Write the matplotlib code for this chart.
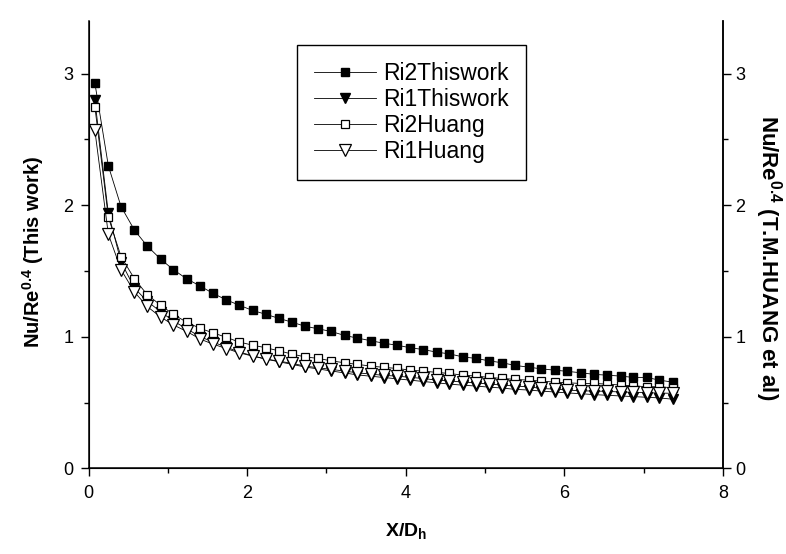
import matplotlib
matplotlib.use("Agg")
import matplotlib.pyplot as plt
from matplotlib.ticker import MultipleLocator
from matplotlib import font_manager

# ---- data ----
x_dh = [0.08, 0.25, 0.41, 0.58, 0.74, 0.91, 1.07, 1.24, 1.41, 1.57,
        1.74, 1.90, 2.07, 2.24, 2.40, 2.57, 2.73, 2.90, 3.06, 3.23,
        3.39, 3.56, 3.73, 3.89, 4.06, 4.22, 4.39, 4.55, 4.72, 4.89,
        5.05, 5.22, 5.38, 5.55, 5.71, 5.88, 6.04, 6.21, 6.38, 6.54,
        6.71, 6.87, 7.04, 7.20, 7.37]

ri2_thiswork = [2.93, 2.30, 1.99, 1.81, 1.69, 1.59, 1.51, 1.44, 1.385, 1.33,
                1.28, 1.24, 1.20, 1.17, 1.14, 1.11, 1.08, 1.06, 1.04, 1.01,
                0.99, 0.97, 0.95, 0.936, 0.916, 0.903, 0.883, 0.870, 0.847, 0.835,
                0.817, 0.802, 0.782, 0.769, 0.756, 0.746, 0.737, 0.726, 0.714, 0.708,
                0.701, 0.691, 0.691, 0.670, 0.655]

ri1_thiswork = [2.80, 1.94, 1.57, 1.37, 1.27, 1.19, 1.12, 1.06, 1.00, 0.96,
                0.92, 0.885, 0.855, 0.83, 0.81, 0.79, 0.77, 0.755, 0.74, 0.725,
                0.71, 0.70, 0.69, 0.68, 0.67, 0.66, 0.65, 0.64, 0.632, 0.625,
                0.617, 0.61, 0.60, 0.595, 0.587, 0.58, 0.573, 0.567, 0.56, 0.555,
                0.55, 0.545, 0.54, 0.535, 0.525]

ri2_huang = [2.75, 1.91, 1.61, 1.44, 1.32, 1.24, 1.17, 1.11, 1.063, 1.03,
             0.995, 0.96, 0.936, 0.916, 0.893, 0.868, 0.847, 0.835, 0.817, 0.802,
             0.79, 0.777, 0.767, 0.759, 0.746, 0.739, 0.729, 0.721, 0.708, 0.701,
             0.691, 0.683, 0.676, 0.670, 0.663, 0.655, 0.650, 0.645, 0.645, 0.640,
             0.633, 0.627, 0.620, 0.620, 0.612]

ri1_huang = [2.57, 1.78, 1.51, 1.34, 1.23, 1.15, 1.09, 1.04, 0.982, 0.944,
             0.91, 0.878, 0.853, 0.83, 0.815, 0.797, 0.777, 0.764, 0.752, 0.739,
             0.726, 0.716, 0.706, 0.701, 0.691, 0.683, 0.670, 0.665, 0.655, 0.650,
             0.640, 0.633, 0.625, 0.620, 0.607, 0.602, 0.595, 0.589, 0.587, 0.585,
             0.580, 0.578, 0.575, 0.572, 0.570]

series_labels = ["Ri2Thiswork", "Ri1Thiswork", "Ri2Huang", "Ri1Huang"]
x_ticks = [0, 2, 4, 6, 8]
y_ticks = [0, 1, 2, 3]

# ---- fonts ----
names = {f.name for f in font_manager.fontManager.ttflist}
tick_family = ["Liberation Sans Narrow", "Liberation Sans", "DejaVu Sans"] if "Liberation Sans Narrow" in names else ["Liberation Sans", "DejaVu Sans"]
plt.rcParams["font.family"] = ["Liberation Sans", "DejaVu Sans"]
plt.rcParams["mathtext.fontset"] = "custom"
plt.rcParams["mathtext.rm"] = "Liberation Sans:bold"
plt.rcParams["mathtext.bf"] = "Liberation Sans:bold"
plt.rcParams["mathtext.it"] = "Liberation Sans:bold"

fig = plt.figure(figsize=(7.86, 5.54), dpi=100)
ax = fig.add_axes([0.1126, 0.1547, 0.8070, 0.8073])

lw = 0.6
ax.plot(x_dh, ri2_thiswork, color="black", lw=lw, marker="s", ms=5.2,
        mfc="black", mec="black", label=series_labels[0], zorder=3)
ax.plot(x_dh, ri1_thiswork, color="black", lw=lw, marker="v", ms=7.5,
        mfc="black", mec="black", label=series_labels[1], zorder=4)
ax.plot(x_dh, ri2_huang, color="black", lw=lw, marker="s", ms=5.6,
        mfc="white", mec="black", mew=0.9, label=series_labels[2], zorder=5)
ax.plot(x_dh, ri1_huang, color="black", lw=lw, marker="v", ms=8,
        mfc="white", mec="black", mew=0.9, label=series_labels[3], zorder=6)

ax.set_xlim(0, 8)
ax.set_ylim(0, 3.4)
ax.set_xticks(x_ticks)
ax.set_yticks(y_ticks)
ax.xaxis.set_minor_locator(MultipleLocator(1))
ax.yaxis.set_minor_locator(MultipleLocator(0.5))

for s in ["left", "bottom", "right"]:
    ax.spines[s].set_linewidth(1.1)
ax.spines["top"].set_visible(False)

ax.tick_params(which="major", direction="out", length=6, width=1.0,
               labelsize=13, pad=5, colors="black")
ax.tick_params(which="minor", direction="out", length=3.5, width=1.0)
ax.tick_params(axis="x", which="major", pad=6)
for lab in ax.get_xticklabels() + ax.get_yticklabels():
    lab.set_family(tick_family)

ax2 = ax.twinx()
ax2.set_ylim(0, 3.4)
ax2.set_yticks(y_ticks)
ax2.yaxis.set_minor_locator(MultipleLocator(0.5))
ax2.spines["top"].set_visible(False)
ax2.spines["right"].set_linewidth(1.1)
ax2.tick_params(which="major", direction="out", length=6, width=1.0,
                labelsize=13, pad=3)
ax2.tick_params(which="minor", direction="out", length=3.5, width=1.0)
for lab in ax2.get_yticklabels():
    lab.set_family(tick_family)

ax.set_xlabel(r"X/D$_{\mathrm{h}}$", fontsize=14, fontweight="bold", labelpad=14)
fig.text(0.042, 0.545, r"Nu/Re$^{0.4}$ (This work)", rotation=90, fontsize=14.5,
         fontweight="bold", ha="center", va="center")
fig.text(0.978, 0.535, r"Nu/Re$^{0.4}$ (T.M.HUANG et al)", rotation=-90,
         fontsize=16, fontweight="bold", ha="center", va="center")

leg = ax.legend(loc="upper left", bbox_to_anchor=(0.329, 0.946), fontsize=16.5,
                frameon=True, fancybox=False, edgecolor="black", framealpha=1,
                handlelength=2.7, handletextpad=0.3, labelspacing=0.12,
                borderpad=0.75, borderaxespad=0)
leg.get_frame().set_linewidth(1.0)
leg.set_zorder(10)

fig.savefig("out.png", dpi=100)
